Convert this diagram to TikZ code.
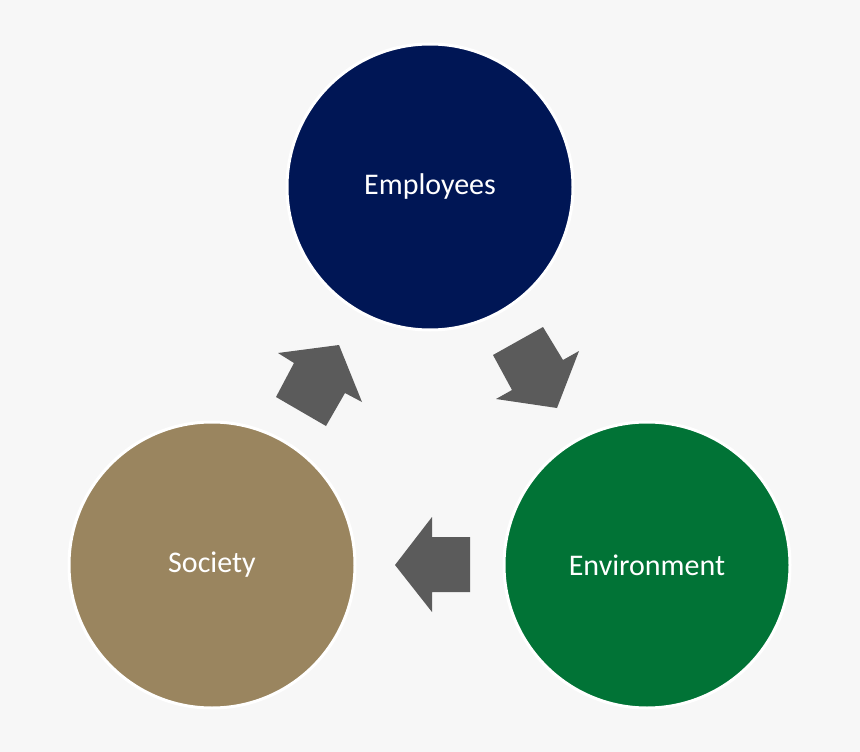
\documentclass[tikz,border=0pt]{standalone}
\usepackage{fontspec}
\setmainfont{Carlito}
\definecolor{bg}{HTML}{F7F7F7}
\definecolor{navy}{HTML}{001655}
\definecolor{grn}{HTML}{017336}
\definecolor{tan}{HTML}{9A855F}
\definecolor{arr}{HTML}{5B5B5B}
\begin{document}
\begin{tikzpicture}[x=1pt,y=-1pt,
  blob/.style={circle,draw=white,line width=3pt,minimum size=286pt,inner sep=0pt,text=white,font=\fontsize{30}{36}\selectfont},
  blockarrow/.style={fill=arr,draw=none}]
\fill[bg] (0,0) rectangle (860,752);
\useasboundingbox (0,0) rectangle (860,752);
\node[blob,fill=navy] (emp) at (430,187) {Employees};
\node[blob,fill=grn] (env) at (647,565) {Environment};
\node[blob,fill=tan] (soc) at (212,565) {Society};
\fill[blockarrow] (339,345)--(362,402)--(345,393)--(326,426)--(276,397)--(294,363)--(278,353)--cycle;
\fill[blockarrow] (543,327)--(563,360)--(579,351)--(557,408)--(496,399)--(512,390)--(493,355)--cycle;
\fill[blockarrow] (395,565)--(432,517)--(432,537)--(470,537)--(470,592)--(432,592)--(432,612)--cycle;
\end{tikzpicture}
\end{document}
